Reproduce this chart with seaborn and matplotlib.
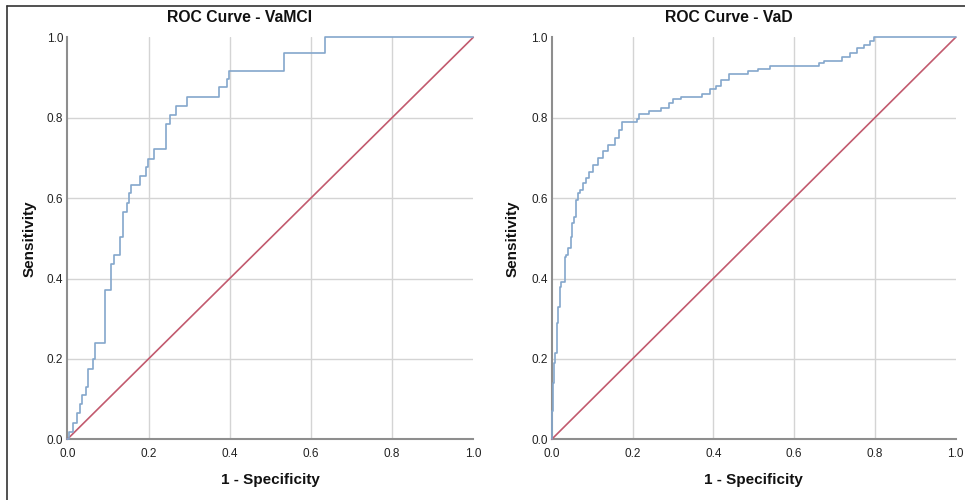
import matplotlib
matplotlib.use("Agg")
import matplotlib.pyplot as plt
from matplotlib import font_manager
import seaborn as sns
import pandas as pd

# ---------------- data ----------------
vamci_fpr = [0.000, 0.005, 0.005, 0.013, 0.013, 0.023, 0.023, 0.031, 0.031, 0.036, 0.036,
             0.046, 0.046, 0.052, 0.052, 0.064, 0.064, 0.068, 0.068, 0.093, 0.093, 0.108,
             0.108, 0.114, 0.114, 0.130, 0.130, 0.138, 0.138, 0.147, 0.147, 0.151, 0.151,
             0.158, 0.158, 0.178, 0.178, 0.194, 0.194, 0.198, 0.198, 0.213, 0.213, 0.244,
             0.244, 0.254, 0.254, 0.268, 0.268, 0.296, 0.296, 0.374, 0.374, 0.393, 0.393,
             0.398, 0.398, 0.533, 0.533, 0.635, 0.635, 1.000]
vamci_tpr = [0.000, 0.000, 0.019, 0.019, 0.041, 0.041, 0.065, 0.065, 0.088, 0.088, 0.109,
             0.109, 0.131, 0.131, 0.174, 0.174, 0.199, 0.199, 0.240, 0.240, 0.371, 0.371,
             0.436, 0.436, 0.458, 0.458, 0.504, 0.504, 0.566, 0.566, 0.589, 0.589, 0.612,
             0.612, 0.633, 0.633, 0.655, 0.655, 0.677, 0.677, 0.698, 0.698, 0.721, 0.721,
             0.784, 0.784, 0.806, 0.806, 0.829, 0.829, 0.852, 0.852, 0.876, 0.876, 0.896,
             0.896, 0.917, 0.917, 0.962, 0.962, 1.000, 1.000]

vad_fpr = [0.000, 0.000, 0.003, 0.003, 0.005, 0.005, 0.008, 0.008, 0.013, 0.013, 0.016,
           0.016, 0.020, 0.020, 0.023, 0.023, 0.033, 0.033, 0.035, 0.035, 0.040, 0.040,
           0.048, 0.048, 0.051, 0.051, 0.055, 0.055, 0.059, 0.059, 0.066, 0.066, 0.070,
           0.070, 0.078, 0.078, 0.085, 0.085, 0.093, 0.093, 0.103, 0.103, 0.115, 0.115,
           0.128, 0.128, 0.140, 0.140, 0.157, 0.157, 0.167, 0.167, 0.173, 0.173, 0.212,
           0.212, 0.217, 0.217, 0.241, 0.241, 0.270, 0.270, 0.291, 0.291, 0.300, 0.300,
           0.319, 0.319, 0.373, 0.373, 0.392, 0.392, 0.406, 0.406, 0.420, 0.420, 0.438,
           0.438, 0.487, 0.487, 0.510, 0.510, 0.540, 0.540, 0.662, 0.662, 0.674, 0.674,
           0.718, 0.718, 0.739, 0.739, 0.756, 0.756, 0.774, 0.774, 0.788, 0.788, 0.798,
           0.798, 1.000]
vad_tpr = [0.000, 0.070, 0.070, 0.139, 0.139, 0.189, 0.189, 0.215, 0.215, 0.289, 0.289,
           0.330, 0.330, 0.380, 0.380, 0.392, 0.392, 0.454, 0.454, 0.458, 0.458, 0.475,
           0.475, 0.504, 0.504, 0.537, 0.537, 0.554, 0.554, 0.595, 0.595, 0.612, 0.612,
           0.620, 0.620, 0.637, 0.637, 0.649, 0.649, 0.666, 0.666, 0.683, 0.683, 0.699,
           0.699, 0.716, 0.716, 0.732, 0.732, 0.749, 0.749, 0.770, 0.770, 0.790, 0.790,
           0.798, 0.798, 0.809, 0.809, 0.817, 0.817, 0.823, 0.823, 0.836, 0.836, 0.846,
           0.846, 0.852, 0.852, 0.859, 0.859, 0.871, 0.871, 0.879, 0.879, 0.894, 0.894,
           0.908, 0.908, 0.915, 0.915, 0.921, 0.921, 0.928, 0.928, 0.936, 0.936, 0.942,
           0.942, 0.950, 0.950, 0.961, 0.961, 0.974, 0.974, 0.982, 0.982, 0.990, 0.990,
           1.000, 1.000]

ref_x = [0.0, 1.0]
ref_y = [0.0, 1.0]

tick_values = [0.0, 0.2, 0.4, 0.6, 0.8, 1.0]
tick_labels = ["0.0", "0.2", "0.4", "0.6", "0.8", "1.0"]

titles = ["ROC Curve - VaMCI", "ROC Curve - VaD"]
xlabel = "1 - Specificity"
ylabel = "Sensitivity"

# ---------------- style ----------------
sns.set_theme(style="white")
plt.rcParams['font.family'] = ['Liberation Sans', 'DejaVu Sans']

available = {f.name for f in font_manager.fontManager.ttflist}
tick_font = 'Liberation Sans Narrow' if 'Liberation Sans Narrow' in available else 'Liberation Sans'

CURVE = "#84a7cc"
DIAG = "#c25a6e"
GRID = "#d4d4d4"
SPINE = "#8e8e8e"

fig = plt.figure(figsize=(9.65, 5.0), dpi=100)
W, H = 965.0, 500.0

axes_px = [(67.3, 406.0), (551.7, 404.0)]
title_x_px = [240.0, 729.0]
ylabel_x_px = [37.0, 520.0]
bottom_px, top_px = 439.3, 37.3

datasets = [(vamci_fpr, vamci_tpr), (vad_fpr, vad_tpr)]

for i, (fpr, tpr) in enumerate(datasets):
    left, width = axes_px[i]
    ax = fig.add_axes([left / W, 1 - bottom_px / H, width / W, (bottom_px - top_px) / H])
    df = pd.DataFrame({"fpr": fpr, "tpr": tpr})
    dref = pd.DataFrame({"x": ref_x, "y": ref_y})
    sns.lineplot(data=dref, x="x", y="y", ax=ax, color=DIAG, linewidth=1.2,
                 sort=False, estimator=None)
    sns.lineplot(data=df, x="fpr", y="tpr", ax=ax, color=CURVE, linewidth=1.2,
                 sort=False, estimator=None)
    for ln in ax.get_lines():
        ln.set_clip_on(False)
        ln.set_zorder(3)

    ax.set_xlim(0, 1)
    ax.set_ylim(0, 1)
    ax.set_xticks(tick_values)
    ax.set_yticks(tick_values)
    ax.set_xticklabels(tick_labels, fontsize=8.5, family=tick_font, color="#222222")
    ax.set_yticklabels(tick_labels, fontsize=8.5, family=tick_font, color="#222222")
    ax.tick_params(axis="x", length=0, pad=6)
    ax.tick_params(axis="y", length=0, pad=3)

    ax.grid(True, color=GRID, linewidth=1.0)
    gx = ax.get_xgridlines()
    gy = ax.get_ygridlines()
    for g in (gx[0], gx[-1], gy[0], gy[-1]):
        g.set_visible(False)
    ax.set_axisbelow(True)

    for s in ("top", "right"):
        ax.spines[s].set_visible(False)
    for s in ("left", "bottom"):
        ax.spines[s].set_color(SPINE)
        ax.spines[s].set_linewidth(1.5)

    ax.set_xlabel(xlabel, fontsize=11, fontweight="bold", color="#111111")
    ax.set_ylabel(ylabel, fontsize=11, fontweight="bold", color="#111111")
    ax.xaxis.set_label_coords(0.5, (bottom_px - 473.0) / (bottom_px - top_px))
    ax.yaxis.set_label_coords((ylabel_x_px[i] - left) / width, 0.5)

    fig.text(title_x_px[i] / W, 1 - 18.0 / H, titles[i], ha="center", va="center",
             fontsize=11.3, fontweight="bold", color="#111111")

# outer frame of the figure (top and left edges)
fig.add_artist(plt.Line2D([7 / W, 1.0], [1 - 6 / H, 1 - 6 / H], color="#333333",
                          linewidth=1.2, transform=fig.transFigure))
fig.add_artist(plt.Line2D([7 / W, 7 / W], [0.0, 1 - 6 / H], color="#333333",
                          linewidth=1.2, transform=fig.transFigure))

fig.savefig("out.png", dpi=100, facecolor="white")
